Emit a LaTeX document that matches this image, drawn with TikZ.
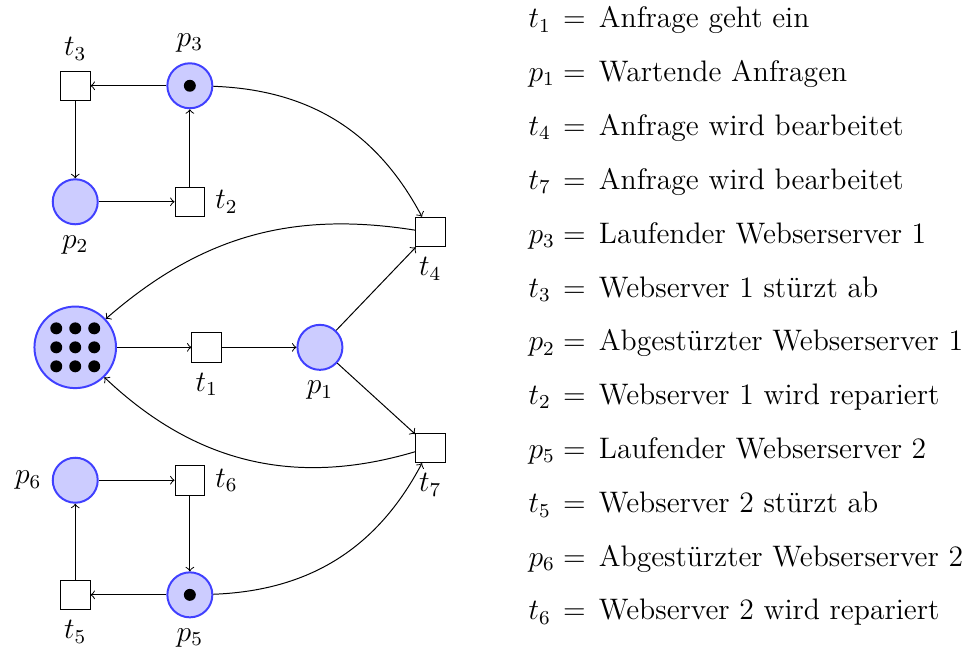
\documentclass[tikz,border=0pt,12pt]{standalone}
\usetikzlibrary{arrows.meta, positioning, calc}
\tikzset{
  place/.style={circle, draw=blue!75, fill=blue!20, thick, minimum size=6.4mm, inner sep=0pt},
  bigplace/.style={place, minimum size=11.6mm},
  transition/.style={rectangle, draw=black, minimum size=4.2mm, inner sep=0pt},
  token/.style={circle, fill=black, inner sep=0pt, minimum size=1.7mm},
  legend/.style={anchor=west, inner sep=0pt},
}
\begin{document}
\begin{tikzpicture}[>=to]
  \useasboundingbox (0,0) rectangle (13.71,-9.25);
  % web server 1
  \node[transition, label=above:$t_3$] (t3) at (1.07,-1.22) {};
  \node[place, label=above:$p_3$] (p3) at (2.70,-1.22) {};
  \node[place, label=below:$p_2$] (p2) at (1.07,-2.87) {};
  \node[transition, label=right:$t_2$] (t2) at (2.70,-2.87) {};
  \node[token] (k3) at (p3) {};
  % requests
  \node[bigplace] (pw) at (1.07,-4.94) {};
  \node[transition, label=below:$t_1$] (t1) at (2.94,-4.94) {};
  \node[place, label=below:$p_1$] (p1) at (4.55,-4.94) {};
  \node[transition, label=below:$t_4$] (t4) at (6.12,-3.30) {};
  \node[transition, label=below:$t_7$] (t7) at (6.12,-6.37) {};
  \foreach \i in {-1,0,1}
    \foreach \j in {-1,0,1}
      \node[token] (kw\i\j) at ($(pw)+(0.27*\i,0.27*\j)$) {};
  % web server 2
  \node[place, label=left:$p_6$] (p6) at (1.07,-6.83) {};
  \node[transition, label=right:$t_6$] (t6) at (2.70,-6.83) {};
  \node[transition, label=below:$t_5$] (t5) at (1.07,-8.46) {};
  \node[place, label=below:$p_5$] (p5) at (2.70,-8.46) {};
  \node[token] (k5) at (p5) {};

  \draw[->] (p3) -- (t3);
  \draw[->] (t3) -- (p2);
  \draw[->] (p2) -- (t2);
  \draw[->] (t2) -- (p3);
  \draw[->] (pw) -- (t1);
  \draw[->] (t1) -- (p1);
  \draw[->] (p1) -- (t4);
  \draw[->] (p1) -- (t7);
  \draw[->] (p6) -- (t6);
  \draw[->] (t6) -- (p5);
  \draw[->] (p5) -- (t5);
  \draw[->] (t5) -- (p6);
  \draw[->] (p3) to[bend left=30] (t4);
  \draw[->] (t4) to[bend right=25] (pw);
  \draw[->] (t7) to[bend left=30] (pw);
  \draw[->] (p5) to[bend right=30] (t7);

  % legend
  \foreach \lhs/\rhs [count=\i] in {t_1/Anfrage geht ein, p_1/Wartende Anfragen,
      t_4/Anfrage wird bearbeitet, t_7/Anfrage wird bearbeitet,
      p_3/Laufender Webserserver 1, t_3/Webserver 1 stürzt ab,
      p_2/Abgestürzter Webserserver 1, t_2/Webserver 1 wird repariert,
      p_5/Laufender Webserserver 2, t_5/Webserver 2 stürzt ab,
      p_6/Abgestürzter Webserserver 2, t_6/Webserver 2 wird repariert}
    \node[legend] (leg\i) at (7.51,{-0.285-0.766*(\i-1)})
      {$\rlap{$\lhs$}\hphantom{p_1} = \,\mbox{\rhs}$};
\end{tikzpicture}
\end{document}
